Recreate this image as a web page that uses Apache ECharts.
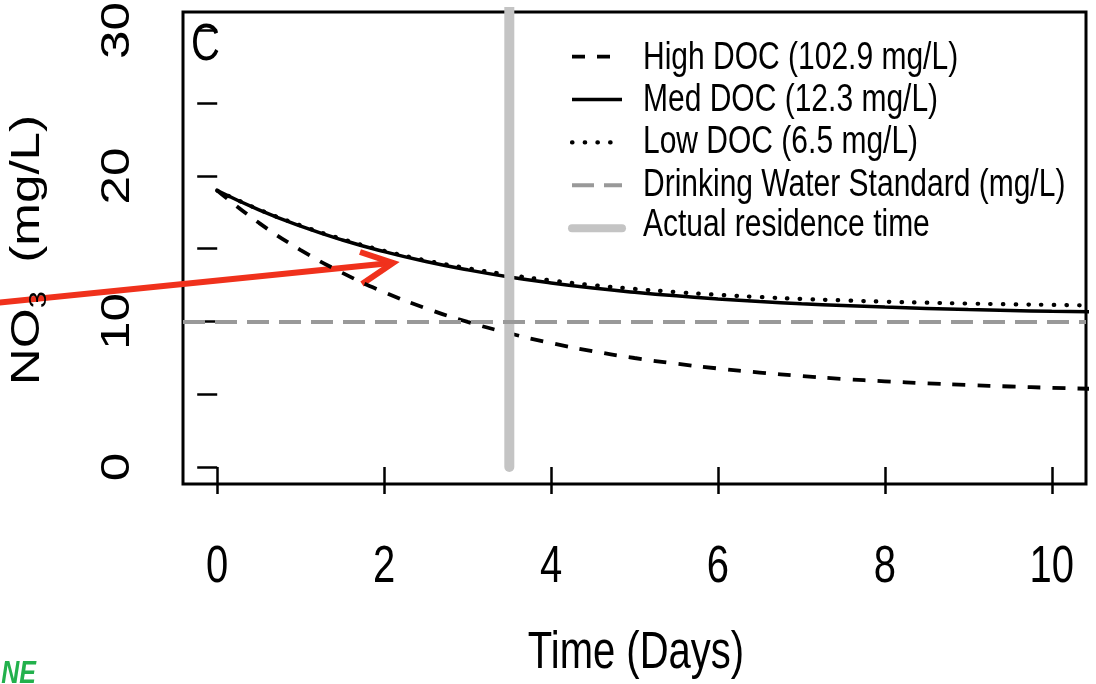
<!DOCTYPE html>
<html>
<head>
<meta charset="utf-8">
<script src="https://cdn.jsdelivr.net/npm/echarts@6/dist/echarts.min.js"></script>
<style>
  html, body { margin: 0; padding: 0; background: #fff; }
  #main { width: 1096px; height: 684px; }
</style>
</head>
<body>
<div id="main"></div>
<script>
// 数据
var days = [0, 0.5, 1, 1.5, 2, 2.5, 3, 3.5, 4, 4.5, 5, 5.5, 6, 6.5, 7, 7.5, 8, 8.5, 9, 9.5, 10, 10.5];
var highDoc = [19.0, 16.78, 14.91, 13.34, 12.02, 10.91, 9.97, 9.19, 8.52, 7.96, 7.49, 7.10, 6.77, 6.49, 6.25, 6.05, 5.89, 5.75, 5.63, 5.53, 5.44, 5.37];
var medDoc = [19.0, 17.67, 16.55, 15.60, 14.80, 14.12, 13.55, 13.06, 12.65, 12.30, 12.01, 11.76, 11.55, 11.37, 11.22, 11.10, 10.99, 10.90, 10.82, 10.76, 10.70, 10.66];
var lowDoc = [19.0, 17.70, 16.60, 15.66, 14.86, 14.20, 13.66, 13.20, 12.82, 12.50, 12.24, 12.02, 11.83, 11.68, 11.55, 11.45, 11.36, 11.29, 11.23, 11.18, 11.14, 11.10];
var standardLimit = 10;
var residenceDays = 3.5;
var residenceSpan = [0, 35];
var xTicks = [0, 2, 4, 6, 8, 10];
var yTicks = [0, 5, 10, 15, 20, 25, 30];
var yLabels = [0, 10, 20, 30];
var seriesNames = ['High DOC (102.9 mg/L)', 'Med DOC (12.3 mg/L)', 'Low DOC (6.5 mg/L)',
  'Drinking Water Standard (mg/L)', 'Actual residence time'];

// 原图纵向被拉伸，文字用 scale 还原
var STRETCH = 1.28;
var FONT = '"Liberation Sans", Arial, Helvetica, sans-serif';

function pairs(ys) {
  return days.map(function (d, i) { return [d, ys[i]]; });
}

// 横排文字（纵向拉伸）
function hText(x, y, text, size, align) {
  return {
    type: 'text', x: x, y: y, scaleY: STRETCH, z: 50,
    style: { text: text, font: size + 'px ' + FONT, fill: '#000', align: align || 'center', verticalAlign: 'middle' }
  };
}

// 竖排文字（逆时针旋转 90°，沿文字方向拉伸）
function vText(x, y, style) {
  style.align = 'center';
  style.verticalAlign = 'middle';
  return { type: 'text', x: x, y: y, rotation: Math.PI / 2, scaleX: STRETCH, z: 50, style: style };
}

function chart() {
  var myChart = echarts.init(document.getElementById('main'));
  var option = {
    animation: false,
    backgroundColor: '#fff',
    grid: {
      left: 183, top: 12, right: 10, bottom: 200,
      show: true, borderColor: '#000', borderWidth: 3, backgroundColor: 'transparent'
    },
    xAxis: {
      type: 'value', min: -0.41, max: 10.41,
      splitLine: { show: false },
      axisLine: { show: false },
      axisTick: { show: true, customValues: xTicks, length: 27, lineStyle: { color: '#000', width: 2.5 } },
      axisLabel: { show: false }
    },
    yAxis: {
      type: 'value', min: -1.17, max: 31.27,
      splitLine: { show: false },
      axisLine: { show: false },
      axisTick: { show: true, customValues: yTicks, length: 20, lineStyle: { color: '#000', width: 2.5 } },
      axisLabel: { show: false }
    },
    legend: {
      orient: 'vertical', left: 568, top: 51, padding: 0,
      itemWidth: 50, itemHeight: 14, itemGap: 31.7,
      itemStyle: { opacity: 0 },
      lineStyle: { width: 'inherit' },
      formatter: function () { return ''; },
      textStyle: { fontSize: 12, lineHeight: 14 },
      data: seriesNames.map(function (n, i) {
        return i === 4 ? { name: n, lineStyle: { width: 8 } } : { name: n };
      })
    },
    series: [
      {
        name: seriesNames[0], type: 'line', smooth: true, symbol: 'none',
        data: pairs(highDoc),
        lineStyle: { color: '#000', width: 3.8, type: [13, 12] }, itemStyle: { color: '#000' }
      },
      {
        name: seriesNames[1], type: 'line', smooth: true, symbol: 'none',
        data: pairs(medDoc),
        lineStyle: { color: '#000', width: 3.5 }, itemStyle: { color: '#000' }
      },
      {
        name: seriesNames[2], type: 'line', smooth: true, symbol: 'none',
        data: pairs(lowDoc),
        lineStyle: { color: '#000', width: 4.2, type: [0.5, 12.2], cap: 'round' }, itemStyle: { color: '#000' }
      },
      {
        name: seriesNames[3], type: 'line', symbol: 'none', data: [],
        lineStyle: { color: '#999', width: 4, type: [22, 10] }, itemStyle: { color: '#999' },
        markLine: {
          silent: true, symbol: 'none', label: { show: false },
          lineStyle: { color: '#999', width: 4, type: [22, 10] },
          data: [{ yAxis: standardLimit }]
        }
      },
      {
        name: seriesNames[4], type: 'line', symbol: 'none',
        data: residenceSpan.map(function (v) { return [residenceDays, v]; }),
        lineStyle: { color: '#c4c4c4', width: 10, cap: 'round' }, itemStyle: { color: '#c4c4c4' }
      }
    ]
  };
  myChart.setOption(option);

  // 文字：刻度标签用坐标轴换算位置
  var texts = [];
  xTicks.forEach(function (v) {
    var p = myChart.convertToPixel({ gridIndex: 0 }, [v, 0]);
    texts.push(hText(p[0], 568, String(v), 40));
  });
  yLabels.forEach(function (v) {
    var p = myChart.convertToPixel({ gridIndex: 0 }, [0, v]);
    texts.push(vText(118, p[1], { text: String(v), font: '40px ' + FONT, fill: '#000' }));
  });
  texts.push(hText(636, 654, 'Time (Days)', 40));
  texts.push(vText(28, 250, {
    text: '{a|NO}{b|3}{a|  (mg/L)}',
    rich: {
      a: { fontFamily: FONT, fontSize: 40, lineHeight: 46, fill: '#000' },
      b: { fontFamily: FONT, fontSize: 24, lineHeight: 24, verticalAlign: 'bottom', fill: '#000' }
    }
  }));
  texts.push(hText(191, 46, 'C', 40, 'left'));
  var legendY = [58, 100, 142, 185, 225];
  seriesNames.forEach(function (n, i) {
    texts.push(hText(643, legendY[i], n, 30, 'left'));
  });
  // 红色箭头注释
  texts.push({
    type: 'group', z: 100,
    children: [
      { type: 'line', shape: { x1: -5, y1: 303, x2: 391, y2: 263 },
        style: { stroke: '#f0311c', lineWidth: 6 } },
      { type: 'polyline', shape: { points: [[360, 252], [393, 263], [362, 284]] },
        style: { stroke: '#f0311c', lineWidth: 6, fill: null } }
    ]
  });
  texts.push({
    type: 'text', x: 36, y: 674, scaleY: STRETCH,
    style: { text: 'NE', font: 'italic bold 25px ' + FONT, fill: '#22b14c', align: 'right', verticalAlign: 'middle' }
  });
  myChart.setOption({ graphic: texts });
}

window.onload = function () {
  chart();
};
</script>
</body>
</html>
